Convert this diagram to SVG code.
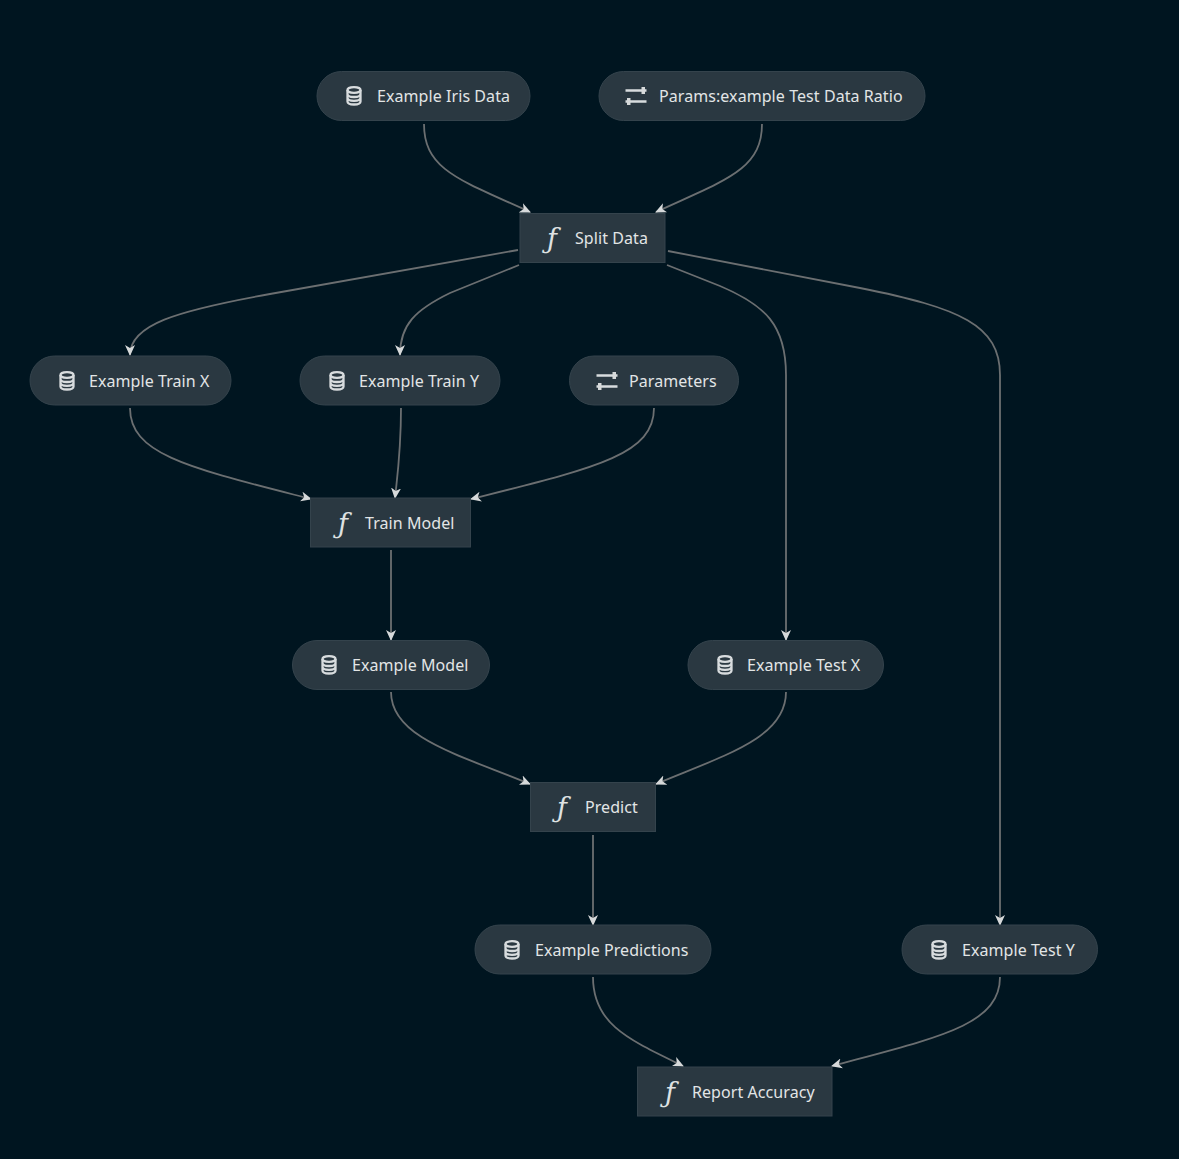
<svg xmlns="http://www.w3.org/2000/svg" width="1179" height="1159" viewBox="0 0 1179 1159">
<style>
.bg{fill:#001520}
.n{fill:#2a3841;stroke:#34434c;stroke-width:1}
.t{font-family:"Noto Sans","Liberation Sans",sans-serif;font-size:16px;letter-spacing:.07px;fill:#e2e5e6;text-anchor:start;dominant-baseline:central}
.e{fill:none;stroke:#6b6f71;stroke-width:1.8}
.i{fill:none;stroke:#d8dcde;stroke-width:2.3}
.a{fill:#d6d9da}
.f{font-family:"DejaVu Serif","Liberation Serif",serif;font-style:italic;font-size:27px;fill:#dfe2e3;text-anchor:middle;dominant-baseline:central}
</style>
<defs>
<marker id="arr" markerUnits="userSpaceOnUse" markerWidth="14" markerHeight="12" refX="10" refY="6" orient="auto"><path class="a" d="M0 1L11 6L0 11L3 6Z"/></marker>
<g id="db"><ellipse class="i" cx="0" cy="-6" rx="6.500" ry="2.800"/><path class="i" d="M-6.500 -6V5.500C-6.500 9.500 6.500 9.500 6.500 5.500V-6M-6.500 -2C-6.500 2 6.500 2 6.500 -2M-6.500 1.800C-6.500 5.800 6.500 5.800 6.500 1.800"/></g>
<g id="pa"><path class="i" d="M-10.500 -5.500H10.500M-10.500 5.500H10.500"/><path class="a" d="M5.500 -9h3.500v7h-3.500zM-9 2h3.500v7h-3.500z"/></g>
</defs>
<rect class="bg" width="1179" height="1159"/>
<g id="connectors">
<path class="e" marker-end="url(#arr)" d="M424 124C424 170 460 180 530 212"/>
<path class="e" marker-end="url(#arr)" d="M762 124C762 170 725 180 656 212"/>
<path class="e" marker-end="url(#arr)" d="M518 250L270 294C175 311 130 325 130 355"/>
<path class="e" marker-end="url(#arr)" d="M519 265L450 293C415 310 400 325 400 355"/>
<path class="e" marker-end="url(#arr)" d="M667 265L720 286C765 305 786 325 786 375V640"/>
<path class="e" marker-end="url(#arr)" d="M668 251L860 288C960 308 1000 325 1000 375V925"/>
<path class="e" marker-end="url(#arr)" d="M130 408C130 455 190 468 311 499"/>
<path class="e" marker-end="url(#arr)" d="M401 408C401 450 398 470 395 498"/>
<path class="e" marker-end="url(#arr)" d="M654 408C654 455 595 468 471 499"/>
<path class="e" marker-end="url(#arr)" d="M391 550V640"/>
<path class="e" marker-end="url(#arr)" d="M391 692C391 738 460 755 530 784"/>
<path class="e" marker-end="url(#arr)" d="M786 692C786 738 725 755 656 784"/>
<path class="e" marker-end="url(#arr)" d="M593 835V925"/>
<path class="e" marker-end="url(#arr)" d="M593 977C593 1025 630 1040 683 1066"/>
<path class="e" marker-end="url(#arr)" d="M1000 977C1000 1025 940 1037 832 1066"/>
</g>
<g id="node-iris"><rect class="n" x="317" y="71.500" width="213" height="49" rx="24.500"/><use href="#db" x="354" y="96"/><text class="t" x="377" y="96">Example Iris Data</text></g>
<g id="node-ratio"><rect class="n" x="599" y="71.500" width="326" height="49" rx="24.500"/><use href="#pa" x="636" y="96"/><text class="t" x="659" y="96">Params:example Test Data Ratio</text></g>
<g id="node-split"><rect class="n" x="520" y="213.500" width="145" height="49"/><text class="f" x="552" y="238">ƒ</text><text class="t" x="575" y="238">Split Data</text></g>
<g id="node-trainx"><rect class="n" x="30" y="356" width="201" height="49" rx="24.500"/><use href="#db" x="67" y="381"/><text class="t" x="89" y="381">Example Train X</text></g>
<g id="node-trainy"><rect class="n" x="300" y="356" width="200" height="49" rx="24.500"/><use href="#db" x="337" y="381"/><text class="t" x="359" y="381">Example Train Y</text></g>
<g id="node-params"><rect class="n" x="569.500" y="356" width="169" height="49" rx="24.500"/><use href="#pa" x="607" y="381"/><text class="t" x="629" y="381">Parameters</text></g>
<g id="node-train"><rect class="n" x="310.500" y="498" width="160" height="49"/><text class="f" x="343" y="523">ƒ</text><text class="t" x="365" y="523">Train Model</text></g>
<g id="node-model"><rect class="n" x="292.500" y="640.500" width="197" height="49" rx="24.500"/><use href="#db" x="329" y="665"/><text class="t" x="352" y="665">Example Model</text></g>
<g id="node-testx"><rect class="n" x="688" y="640.500" width="195.500" height="49" rx="24.500"/><use href="#db" x="725" y="665"/><text class="t" x="747" y="665">Example Test X</text></g>
<g id="node-predict"><rect class="n" x="530.500" y="782.500" width="125" height="49"/><text class="f" x="562" y="807">ƒ</text><text class="t" x="585" y="807">Predict</text></g>
<g id="node-preds"><rect class="n" x="475" y="925" width="236" height="49" rx="24.500"/><use href="#db" x="512" y="950"/><text class="t" x="535" y="950">Example Predictions</text></g>
<g id="node-testy"><rect class="n" x="902" y="925" width="195.500" height="49" rx="24.500"/><use href="#db" x="939" y="950"/><text class="t" x="962" y="950">Example Test Y</text></g>
<g id="node-report"><rect class="n" x="637.500" y="1067" width="194.500" height="49"/><text class="f" x="670" y="1092">ƒ</text><text class="t" x="692" y="1092">Report Accuracy</text></g>
</svg>
